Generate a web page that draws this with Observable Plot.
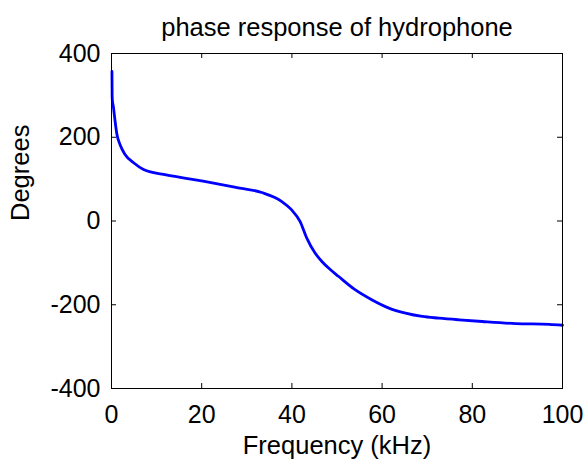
<!DOCTYPE html>
<html>
<head>
<meta charset="utf-8">
<script src="https://cdn.jsdelivr.net/npm/d3@7"></script>
<script src="https://cdn.jsdelivr.net/npm/@observablehq/plot@0.6"></script>
<style>
  html, body { margin: 0; padding: 0; background: #fff; }
  svg { display: block; }
</style>
</head>
<body>
<div id="chart"></div>
<script>
const titleText = "phase response of hydrophone";
const xLabel = "Frequency (kHz)";
const yLabel = "Degrees";
const xTicks = [0, 20, 40, 60, 80, 100];
const yTicks = [-400, -200, 0, 200, 400];
const freq = [0.1, 0.15, 0.45, 0.8, 1.2, 1.9, 3.0, 4.9, 7.1, 12.1, 16.5, 20.3, 27.3, 33.3, 37.7, 39.9, 41.8, 43.3, 45.1, 46.6, 48.5, 50.3, 54.0, 57.7, 61.5, 65.2, 68.9, 72.6, 77.1, 82.2, 89.7, 97.1, 100];
const phase = [357, 294, 270, 238, 207, 182, 159, 139, 123, 110, 102, 95, 81, 68, 47, 27, -1, -41, -76, -96, -116, -132, -164, -188, -208, -220, -228, -232, -236, -240, -245, -247, -249];

const data = freq.map((f, i) => ({f, p: phase[i]}));
const font = "Liberation Sans, Arial, Helvetica, sans-serif";
const fmt = d => String(d);

const innerW = 585 - 111 - 23;
const innerH = 461 - 53 - 73;
const tick = 5;

const chart = Plot.plot({
  width: 585,
  height: 461,
  marginLeft: 111,
  marginRight: 23,
  marginTop: 53,
  marginBottom: 73,
  style: {fontFamily: font, fontSize: "25px", color: "black", background: "white"},
  x: {domain: [0, 100]},
  y: {domain: [-400, 400]},
  marks: [
    Plot.line(data, {x: "f", y: "p", stroke: "#0000ff", strokeWidth: 2.8, curve: "monotone-x"}),
    Plot.frame({stroke: "black", strokeWidth: 1}),
    Plot.ruleX(xTicks, {x: d => d, insetTop: innerH - tick, stroke: "black"}),
    Plot.ruleX(xTicks, {x: d => d, insetBottom: innerH - tick, stroke: "black"}),
    Plot.ruleY(yTicks, {y: d => d, insetRight: innerW - tick, stroke: "black"}),
    Plot.ruleY(yTicks, {y: d => d, insetLeft: innerW - tick, stroke: "black"}),
    Plot.axisX(xTicks, {anchor: "bottom", tickSize: 0, tickPadding: 17, fontSize: 25, tickFormat: fmt, label: null}),
    Plot.axisY(yTicks, {anchor: "left", tickSize: 0, tickPadding: 11, fontSize: 25, tickFormat: fmt, label: null}),
    Plot.text([titleText], {frameAnchor: "top", dy: -18, lineAnchor: "bottom", fontSize: 25.5, fill: "black"}),
    Plot.text([xLabel], {frameAnchor: "bottom", dy: 65, lineAnchor: "bottom", fontSize: 25.5, fill: "black"}),
    Plot.text([yLabel], {frameAnchor: "left", dx: -83, rotate: -90, lineAnchor: "bottom", fontSize: 25.5, fill: "black"})
  ]
});
document.getElementById("chart").appendChild(chart);
</script>
</body>
</html>
